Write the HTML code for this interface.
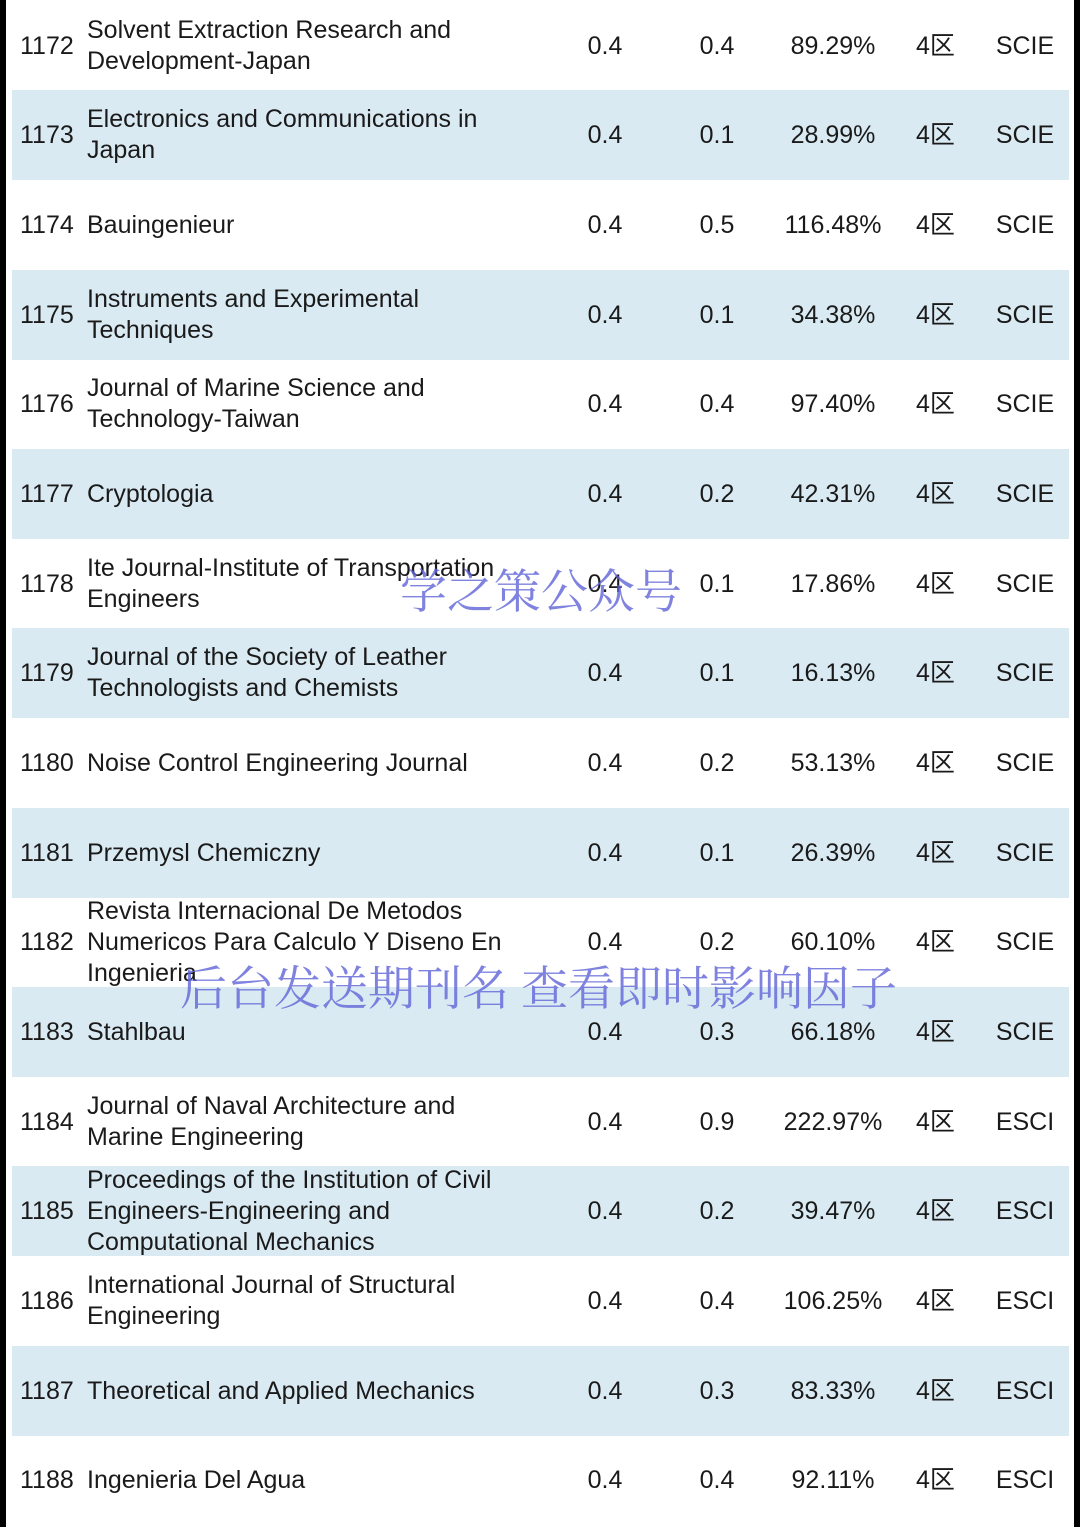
<!DOCTYPE html><html><head><meta charset="utf-8"><style>
body{margin:0;width:1080px;height:1527px;background:#fff;position:relative;overflow:hidden;font-family:"Liberation Sans","Noto Sans CJK SC",sans-serif;font-size:25px;color:#1a1a1a}
.bl{position:absolute;left:0;top:0;width:6px;height:1527px;background:#000;z-index:5}
.br{position:absolute;left:1074px;top:0;width:6px;height:1527px;background:#000;z-index:5}
.r{position:absolute;left:12px;width:1057px;height:90px}
.s{background:#daeaf3}
.c{position:absolute;top:0;height:100%;display:flex;align-items:center;line-height:31px;white-space:nowrap}
.n{left:8px}.t{left:75px;width:440px}
.a{left:560px;width:66px;justify-content:center}
.b{left:672px;width:66px;justify-content:center}
.p{left:760px;width:122px;justify-content:center}
.q{left:904px}.x{left:970px;width:86px;justify-content:center}
.w{position:absolute;font-family:"Noto Serif CJK SC",serif;color:rgba(95,100,215,.8);font-size:47px;white-space:nowrap}
</style></head><body>
<div class="bl"></div><div class="br"></div>
<div class="r" style="top:1px"><div class="c n">1172</div><div class="c t">Solvent Extraction Research and<br>Development-Japan</div><div class="c a">0.4</div><div class="c b">0.4</div><div class="c p">89.29%</div><div class="c q">4区</div><div class="c x">SCIE</div></div>
<div class="r s" style="top:90px"><div class="c n">1173</div><div class="c t">Electronics and Communications in<br>Japan</div><div class="c a">0.4</div><div class="c b">0.1</div><div class="c p">28.99%</div><div class="c q">4区</div><div class="c x">SCIE</div></div>
<div class="r" style="top:180px"><div class="c n">1174</div><div class="c t">Bauingenieur</div><div class="c a">0.4</div><div class="c b">0.5</div><div class="c p">116.48%</div><div class="c q">4区</div><div class="c x">SCIE</div></div>
<div class="r s" style="top:270px"><div class="c n">1175</div><div class="c t">Instruments and Experimental<br>Techniques</div><div class="c a">0.4</div><div class="c b">0.1</div><div class="c p">34.38%</div><div class="c q">4区</div><div class="c x">SCIE</div></div>
<div class="r" style="top:359px"><div class="c n">1176</div><div class="c t">Journal of Marine Science and<br>Technology-Taiwan</div><div class="c a">0.4</div><div class="c b">0.4</div><div class="c p">97.40%</div><div class="c q">4区</div><div class="c x">SCIE</div></div>
<div class="r s" style="top:449px"><div class="c n">1177</div><div class="c t">Cryptologia</div><div class="c a">0.4</div><div class="c b">0.2</div><div class="c p">42.31%</div><div class="c q">4区</div><div class="c x">SCIE</div></div>
<div class="r" style="top:539px"><div class="c n">1178</div><div class="c t">Ite Journal-Institute of Transportation<br>Engineers</div><div class="c a">0.4</div><div class="c b">0.1</div><div class="c p">17.86%</div><div class="c q">4区</div><div class="c x">SCIE</div></div>
<div class="r s" style="top:628px"><div class="c n">1179</div><div class="c t">Journal of the Society of Leather<br>Technologists and Chemists</div><div class="c a">0.4</div><div class="c b">0.1</div><div class="c p">16.13%</div><div class="c q">4区</div><div class="c x">SCIE</div></div>
<div class="r" style="top:718px"><div class="c n">1180</div><div class="c t">Noise Control Engineering Journal</div><div class="c a">0.4</div><div class="c b">0.2</div><div class="c p">53.13%</div><div class="c q">4区</div><div class="c x">SCIE</div></div>
<div class="r s" style="top:808px"><div class="c n">1181</div><div class="c t">Przemysl Chemiczny</div><div class="c a">0.4</div><div class="c b">0.1</div><div class="c p">26.39%</div><div class="c q">4区</div><div class="c x">SCIE</div></div>
<div class="r" style="top:897px"><div class="c n">1182</div><div class="c t">Revista Internacional De Metodos<br>Numericos Para Calculo Y Diseno En<br>Ingenieria</div><div class="c a">0.4</div><div class="c b">0.2</div><div class="c p">60.10%</div><div class="c q">4区</div><div class="c x">SCIE</div></div>
<div class="r s" style="top:987px"><div class="c n">1183</div><div class="c t">Stahlbau</div><div class="c a">0.4</div><div class="c b">0.3</div><div class="c p">66.18%</div><div class="c q">4区</div><div class="c x">SCIE</div></div>
<div class="r" style="top:1077px"><div class="c n">1184</div><div class="c t">Journal of Naval Architecture and<br>Marine Engineering</div><div class="c a">0.4</div><div class="c b">0.9</div><div class="c p">222.97%</div><div class="c q">4区</div><div class="c x">ESCI</div></div>
<div class="r s" style="top:1166px"><div class="c n">1185</div><div class="c t">Proceedings of the Institution of Civil<br>Engineers-Engineering and<br>Computational Mechanics</div><div class="c a">0.4</div><div class="c b">0.2</div><div class="c p">39.47%</div><div class="c q">4区</div><div class="c x">ESCI</div></div>
<div class="r" style="top:1256px"><div class="c n">1186</div><div class="c t">International Journal of Structural<br>Engineering</div><div class="c a">0.4</div><div class="c b">0.4</div><div class="c p">106.25%</div><div class="c q">4区</div><div class="c x">ESCI</div></div>
<div class="r s" style="top:1346px"><div class="c n">1187</div><div class="c t">Theoretical and Applied Mechanics</div><div class="c a">0.4</div><div class="c b">0.3</div><div class="c p">83.33%</div><div class="c q">4区</div><div class="c x">ESCI</div></div>
<div class="r" style="top:1435px"><div class="c n">1188</div><div class="c t">Ingenieria Del Agua</div><div class="c a">0.4</div><div class="c b">0.4</div><div class="c p">92.11%</div><div class="c q">4区</div><div class="c x">ESCI</div></div>
<div class="w" style="left:400px;top:555px">学之策公众号</div>
<div class="w" style="left:180px;top:952px">后台发送期刊名 查看即时影响因子</div>
</body></html>
